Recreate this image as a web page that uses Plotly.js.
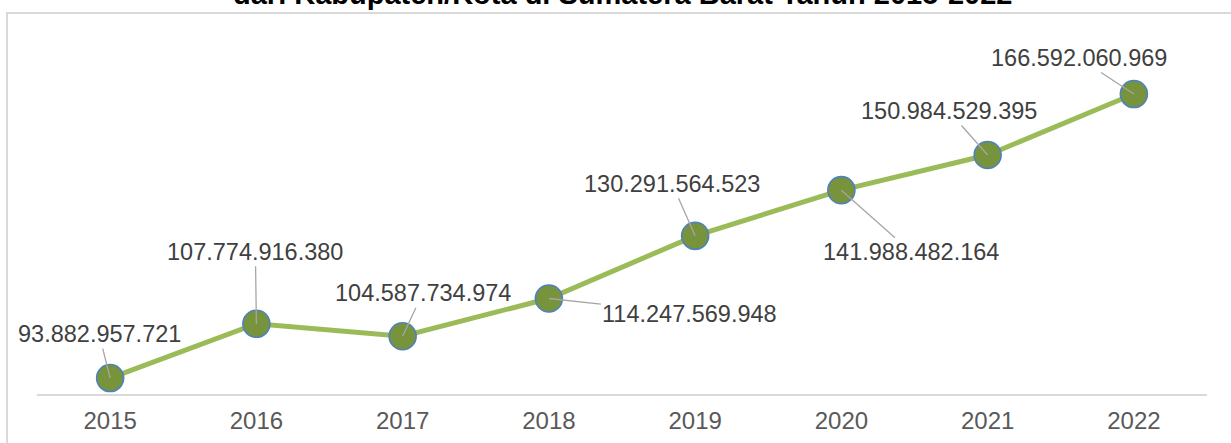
<!DOCTYPE html>
<html>
<head>
<meta charset="utf-8">
<script src="https://cdn.plot.ly/plotly-3.0.1.min.js"></script>
<style>
  html, body { margin: 0; padding: 0; background: #ffffff; }
  #chart { width: 1231px; height: 443px; }
</style>
</head>
<body>
<div id="chart"></div>
<script>
// ---- data ----
const years = ['2015', '2016', '2017', '2018', '2019', '2020', '2021', '2022'];
const values = [93882957721, 107774916380, 104587734974, 114247569948,
                130291564523, 141988482164, 150984529395, 166592060969];
const titleText = 'dari Kabupaten/Kota di Sumatera Barat Tahun 2015-2022';

// label placement (pixel offsets of label centre from point)
const labelDx = [-11, -1, 20, 141, -23, 70, -39, -55];
const labelDy = [-44, -72, -43, 15, -52, 62, -44, -36];

function fmt(v) {
  return String(v).replace(/\B(?=(\d{3})+(?!\d))/g, '.');
}

const FONT = 'Liberation Sans, Arial, Helvetica, sans-serif';
const idx = years.map((_, i) => i);

const trace = {
  type: 'scatter',
  mode: 'lines+markers',
  x: idx,
  y: values,
  line: { color: '#9bbb59', width: 5 },
  marker: { size: 27, color: '#77933c', line: { color: '#4f81bd', width: 1.6 } },
  hoverinfo: 'skip',
  cliponaxis: false
};

const annotations = idx.map(i => ({
  x: i, y: values[i], xref: 'x', yref: 'y',
  text: fmt(values[i]),
  showarrow: true, arrowhead: 0, arrowwidth: 1.3, arrowcolor: '#a6a6a6',
  standoff: 0, startstandoff: 0,
  axref: 'pixel', ayref: 'pixel',
  ax: labelDx[i], ay: labelDy[i],
  font: { family: FONT, size: 23.5, color: '#404040' }
}));

annotations.push({
  xref: 'paper', yref: 'paper', x: 0.5, y: 1.0207, xanchor: 'center', yanchor: 'bottom',
  text: '<b>' + titleText + '</b>', showarrow: false,
  font: { family: FONT, size: 29, color: '#000000' }
});

const layout = {
  width: 1231, height: 443,
  margin: { l: 37, r: 24, t: 20, b: 49 },
  paper_bgcolor: '#ffffff', plot_bgcolor: '#ffffff',
  showlegend: false,
  hovermode: false,
  xaxis: {
    type: 'linear',
    range: [-0.5, years.length - 0.5],
    tickmode: 'array', tickvals: idx, ticktext: years,
    showline: true, linecolor: '#d9d9d9', linewidth: 1.5,
    showgrid: false, zeroline: false,
    ticks: 'outside', ticklen: 5, tickcolor: 'rgba(0,0,0,0)',
    tickfont: { family: FONT, size: 24, color: '#595959' },
    fixedrange: true
  },
  yaxis: {
    visible: false,
    range: [89.8e9, 185.55e9],
    showgrid: false, zeroline: false, fixedrange: true
  },
  shapes: [{
    type: 'rect', xref: 'paper', yref: 'paper',
    x0: -0.02564, x1: 1.05, y0: -0.2, y1: 1.0187,
    line: { color: '#d9d9d9', width: 2 }, layer: 'below'
  }],
  annotations: annotations
};

Plotly.newPlot('chart', [trace], layout, { displayModeBar: false, staticPlot: true });
</script>
</body>
</html>
